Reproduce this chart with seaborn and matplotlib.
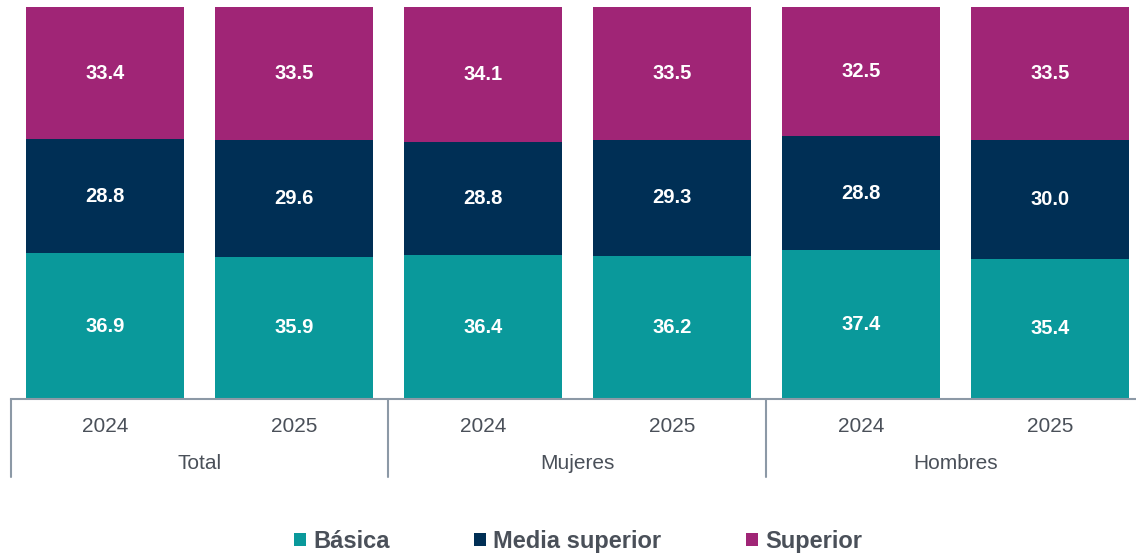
import numpy as np
import pandas as pd
import seaborn as sns
import matplotlib.pyplot as plt

groups = ["Total", "Total", "Mujeres", "Mujeres", "Hombres", "Hombres"]
years = ["2024", "2025", "2024", "2025", "2024", "2025"]
basica = [36.9, 35.9, 36.4, 36.2, 37.4, 35.4]
media = [28.8, 29.6, 28.8, 29.3, 28.8, 30.0]
superior = [33.4, 33.5, 34.1, 33.5, 32.5, 33.5]

colors = {"Básica": "#0A999B", "Media superior": "#002F55", "Superior": "#A02576"}
text_gray = "#4A5059"
line_gray = "#8C99A6"

sns.set_theme(style="white")
plt.rcParams["font.family"] = ["Liberation Sans", "DejaVu Sans"]

df = pd.DataFrame({"grupo": groups, "anio": years,
                   "Básica": basica, "Media superior": media, "Superior": superior})
df["key"] = df["grupo"] + " " + df["anio"]
tot = df["Básica"] + df["Media superior"] + df["Superior"]
# 100% stacked
df["b"] = df["Básica"] / tot * 100
df["m"] = df["Media superior"] / tot * 100
df["s"] = df["Superior"] / tot * 100
df["c1"] = df["b"]
df["c2"] = df["b"] + df["m"]
df["c3"] = df["c2"] + df["s"]

fig = plt.figure(figsize=(11.36, 5.55), dpi=100)
ax = fig.add_axes([10.5 / 1136, 156 / 555, 1134 / 1136, 392 / 555])

order = list(df["key"])
for col, name in [("c3", "Superior"), ("c2", "Media superior"), ("c1", "Básica")]:
    sns.barplot(data=df, x="key", y=col, order=order, color=colors[name],
                width=0.835, saturation=1, ax=ax, label=name, linewidth=0)

# value labels
for i, row in df.iterrows():
    for val, lo, hi in [(row["Básica"], 0, row["c1"]),
                        (row["Media superior"], row["c1"], row["c2"]),
                        (row["Superior"], row["c2"], row["c3"])]:
        ax.text(i, (lo + hi) / 2, f"{val:.1f}", ha="center", va="center",
                color="white", fontsize=14.5, fontweight="bold")

ax.set_xlim(-0.5, 5.5)
ax.set_ylim(0, 100)
ax.set_xlabel("")
ax.set_ylabel("")
ax.set_yticks([])
ax.set_xticks(range(6))
ax.set_xticklabels(years, fontsize=15, color=text_gray)
ax.tick_params(axis="x", length=0, pad=13)
for s in ["top", "right", "left"]:
    ax.spines[s].set_visible(False)
ax.spines["bottom"].set_color(line_gray)
ax.spines["bottom"].set_linewidth(1.5)

# group labels and separators
for j, g in enumerate(["Total", "Mujeres", "Hombres"]):
    ax.text(2 * j + 0.5, -0.165, g, transform=ax.get_xaxis_transform(),
            ha="center", va="center", fontsize=15, color=text_gray)
for x in [-0.5, 1.5, 3.5, 5.5]:
    ax.axvline(x, ymin=-0.2, ymax=0, color=line_gray, lw=1.5, clip_on=False)

handles, labels = ax.get_legend_handles_labels()
hmap = dict(zip(labels, handles))
if ax.get_legend():
    ax.get_legend().remove()
names = ["Básica", "Media superior", "Superior"]
leg = fig.legend([hmap[n] for n in names], names, loc="center", bbox_to_anchor=(0.509, 0.025),
                 ncol=3, frameon=False, handlelength=0.5, handleheight=0.5,
                 handletextpad=0.3, columnspacing=3.6,
                 prop={"size": 17, "weight": "bold"})
for t in leg.get_texts():
    t.set_color(text_gray)

fig.savefig("out.png", dpi=100)
